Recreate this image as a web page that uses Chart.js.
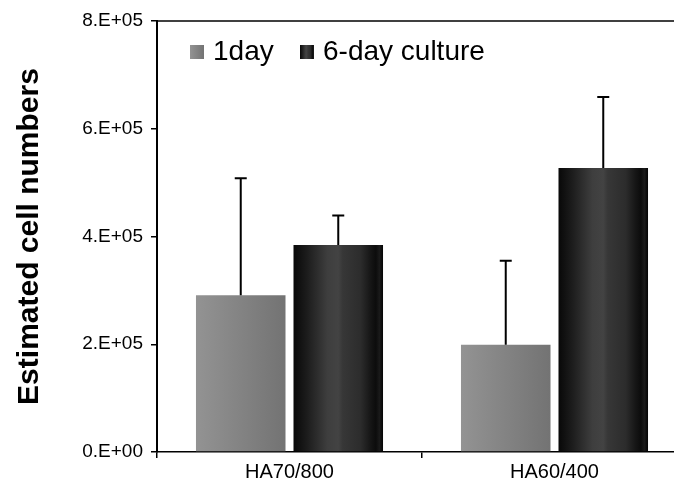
<!DOCTYPE html>
<html>
<head>
<meta charset="utf-8">
<script src="https://cdn.jsdelivr.net/npm/chart.js@4.4.1/dist/chart.umd.min.js"></script>
<style>
  html, body { margin: 0; padding: 0; background: #fff; overflow: hidden; }
  #wrap { position: absolute; left: 0; top: 0; width: 700px; height: 488px; }
</style>
</head>
<body>
<div id="wrap"><canvas id="graficoCelulas" width="700" height="488"></canvas></div>
<script>
// Dados do gráfico
const grupos = ["HA70/800", "HA60/400"];
const rotulosSeries = ["1day", "6-day culture"];
const valores1dia = [291000, 199000];
const erros1dia = [217000, 156000];
const valores6dias = [384000, 527000];
const erros6dias = [55000, 132000];
const rotulosEixoY = ["0.E+00", "2.E+05", "4.E+05", "6.E+05", "8.E+05"];
const tituloEixoY = "Estimated cell numbers";

const fonte = "'Liberation Sans', Arial, sans-serif";

// Gradientes horizontais das barras
function gradienteCinza(ctx, x0, x1) {
  const g = ctx.createLinearGradient(x0, 0, x1, 0);
  g.addColorStop(0, "#939393");
  g.addColorStop(1, "#737373");
  return g;
}

function gradientePreto(ctx, x0, x1) {
  const g = ctx.createLinearGradient(x0, 0, x1, 0);
  g.addColorStop(0, "#080808");
  g.addColorStop(0.15, "#1c1c1c");
  g.addColorStop(0.38, "#3e3e3e");
  g.addColorStop(0.5, "#434343");
  g.addColorStop(0.55, "#373737");
  g.addColorStop(0.75, "#2c2c2c");
  g.addColorStop(0.86, "#161616");
  g.addColorStop(0.92, "#0c0c0c");
  g.addColorStop(0.96, "#1a1a1a");
  g.addColorStop(1, "#040404");
  return g;
}

const gradientes = [gradienteCinza, gradientePreto];
const coresBase = ["#858585", "#252525"];

function corDaBarra(c) {
  const el = c.element;
  if (!el || !isFinite(el.x) || !isFinite(el.width)) return coresBase[c.datasetIndex];
  return gradientes[c.datasetIndex](c.chart.ctx, el.x - el.width / 2, el.x + el.width / 2);
}

// Barras de erro (somente para cima)
const pluginErros = {
  id: "barrasErro",
  afterDatasetsDraw(chart) {
    const ctx = chart.ctx;
    const y = chart.scales.y;
    chart.data.datasets.forEach((ds, i) => {
      const meta = chart.getDatasetMeta(i);
      meta.data.forEach((bar, j) => {
        const topo = y.getPixelForValue(ds.data[j] + ds.erros[j]);
        ctx.save();
        ctx.strokeStyle = "#000";
        ctx.lineWidth = 2;
        ctx.beginPath();
        ctx.moveTo(bar.x, bar.y);
        ctx.lineTo(bar.x, topo);
        ctx.moveTo(bar.x - 6, topo);
        ctx.lineTo(bar.x + 6, topo);
        ctx.stroke();
        ctx.restore();
      });
    });
  }
};

// Linha superior e legenda dentro da área do gráfico
const pluginMoldura = {
  id: "moldura",
  afterDraw(chart) {
    const ctx = chart.ctx;
    const area = chart.chartArea;
    ctx.save();
    ctx.strokeStyle = "#000";
    ctx.lineWidth = 1.5;
    ctx.beginPath();
    ctx.moveTo(area.left, area.top);
    ctx.lineTo(chart.width, area.top);
    ctx.stroke();

    // legenda
    const posicoes = [190, 300];
    ctx.font = "28px " + fonte;
    ctx.textBaseline = "middle";
    ctx.fillStyle = "#000";
    chart.data.datasets.forEach((ds, i) => {
      const x = posicoes[i];
      ctx.fillStyle = gradientes[i](ctx, x, x + 14);
      ctx.fillRect(x, 45, 14, 14);
      ctx.fillStyle = "#000";
      ctx.fillText(ds.label, x + 23, 52);
    });
    ctx.restore();
  }
};

const ctxCelulas = document.getElementById("graficoCelulas").getContext("2d");
const grafico = new Chart(ctxCelulas, {
  type: "bar",
  data: {
    labels: grupos,
    datasets: [
      {
        label: rotulosSeries[0],
        data: valores1dia,
        erros: erros1dia,
        backgroundColor: corDaBarra,
        categoryPercentage: 0.736,
        barPercentage: 0.918,
      },
      {
        label: rotulosSeries[1],
        data: valores6dias,
        erros: erros6dias,
        backgroundColor: corDaBarra,
        categoryPercentage: 0.736,
        barPercentage: 0.918,
      },
    ],
  },
  options: {
    responsive: false,
    animation: false,
    layout: {
      padding: { left: 0, right: 13, top: 21, bottom: 0 },
    },
    plugins: {
      legend: { display: false },
      tooltip: { enabled: false },
    },
    scales: {
      x: {
        grid: {
          display: true,
          drawOnChartArea: false,
          offset: true,
          tickLength: 6,
          color: "#000",
          lineWidth: 1.5,
        },
        border: { color: "#000", width: 1.5 },
        ticks: {
          color: "#000",
          font: { family: fonte, size: 20 },
          padding: 2,
        },
        afterFit(scale) {
          scale.height = 36;
        },
      },
      y: {
        min: 0,
        max: 800000,
        grid: {
          display: true,
          drawOnChartArea: false,
          tickLength: 6,
          color: "#000",
          lineWidth: 1.5,
        },
        border: { color: "#000", width: 2 },
        ticks: {
          stepSize: 200000,
          color: "#000",
          padding: 8,
          font: { family: fonte, size: 19 },
          callback: (v, i) => rotulosEixoY[i],
        },
        title: {
          display: true,
          text: tituloEixoY,
          color: "#000",
          font: { family: fonte, size: 30, weight: "bold" },
          padding: { top: 12, bottom: 0 },
        },
        afterFit(scale) {
          scale.width = 157;
        },
      },
    },
  },
  plugins: [pluginErros, pluginMoldura],
});

// segunda passagem para os gradientes usarem a posição das barras
grafico.update();
</script>
</body>
</html>
